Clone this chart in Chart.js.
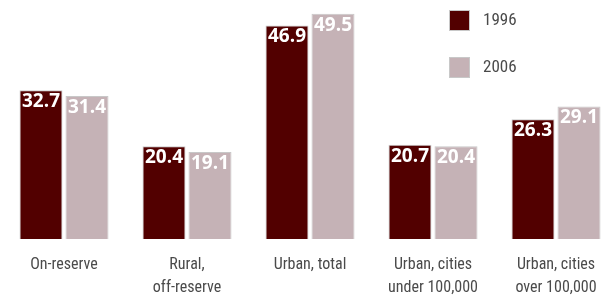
<!DOCTYPE html>
<html><head><meta charset="utf-8">
<script src="https://cdn.jsdelivr.net/npm/chart.js@4/dist/chart.umd.min.js"></script>
<style>html,body{margin:0;padding:0;background:#fff;}canvas{display:block;}</style>
</head><body>
<canvas id="c" width="606" height="297"></canvas>
<script>
const categories = [["On-reserve"], ["Rural,", "off-reserve"], ["Urban, total"], ["Urban, cities", "under 100,000"], ["Urban, cities", "over 100,000"]];
const seriesLabels = ["1996", "2006"];
const values1996 = [32.7, 20.4, 46.9, 20.7, 26.3];
const values2006 = [31.4, 19.1, 49.5, 20.4, 29.1];
const colors = ["#520000", "#c5b2b6"];

const narrow = '"Liberation Sans Narrow", "Roboto Condensed", "Open Sans", sans-serif';

const valueLabels = {
  id: 'valueLabels',
  afterDatasetsDraw(chart) {
    const ctx = chart.ctx;
    ctx.save();
    ctx.font = 'bold 19px "Open Sans", sans-serif';
    ctx.fillStyle = '#ffffff';
    ctx.textAlign = 'center';
    ctx.textBaseline = 'top';
    chart.data.datasets.forEach((ds, i) => {
      chart.getDatasetMeta(i).data.forEach((bar, j) => {
        ctx.fillText(ds.data[j].toFixed(1), bar.x, bar.y + 2);
      });
    });
    ctx.restore();
  }
};

const sideLegend = {
  id: 'sideLegend',
  afterDraw(chart) {
    const ctx = chart.ctx;
    ctx.save();
    chart.data.datasets.forEach((ds, i) => {
      const y = 10 + i * 47;
      ctx.fillStyle = ds.backgroundColor;
      ctx.fillRect(449.5, y + 0.5, 20, 20);
      ctx.strokeStyle = '#c8c8c8';
      ctx.lineWidth = 1;
      ctx.strokeRect(449.5, y + 0.5, 20, 20);
      ctx.fillStyle = '#4a4a4a';
      ctx.font = '17px ' + narrow;
      ctx.textAlign = 'left';
      ctx.textBaseline = 'middle';
      ctx.fillText(ds.label, 483, y + 11);
    });
    ctx.restore();
  }
};

new Chart(document.getElementById('c'), {
  type: 'bar',
  data: {
    labels: categories,
    datasets: [
      { label: seriesLabels[0], data: values1996, backgroundColor: colors[0], borderColor: '#c8c8c8', borderWidth: 1, categoryPercentage: 0.748, barPercentage: 0.935, clip: false },
      { label: seriesLabels[1], data: values2006, backgroundColor: colors[1], borderColor: '#c8c8c8', borderWidth: 1, categoryPercentage: 0.748, barPercentage: 0.935, clip: false }
    ]
  },
  options: {
    responsive: false,
    devicePixelRatio: 1,
    animation: false,
    layout: { padding: { left: 64, right: 50, top: 0, bottom: 0 } },
    plugins: { legend: { display: false }, tooltip: { enabled: false } },
    scales: {
      x: {
        offset: false,
        grid: { display: false },
        border: { display: false },
        ticks: { color: '#4a4a4a', font: { family: narrow, size: 16, lineHeight: 1.4 }, padding: 7, maxRotation: 0, autoSkip: false },
        afterFit(scale) { scale.height = 58; }
      },
      y: { display: false, min: 0, max: 52.5 }
    }
  },
  plugins: [valueLabels, sideLegend]
});
</script>
</body></html>
